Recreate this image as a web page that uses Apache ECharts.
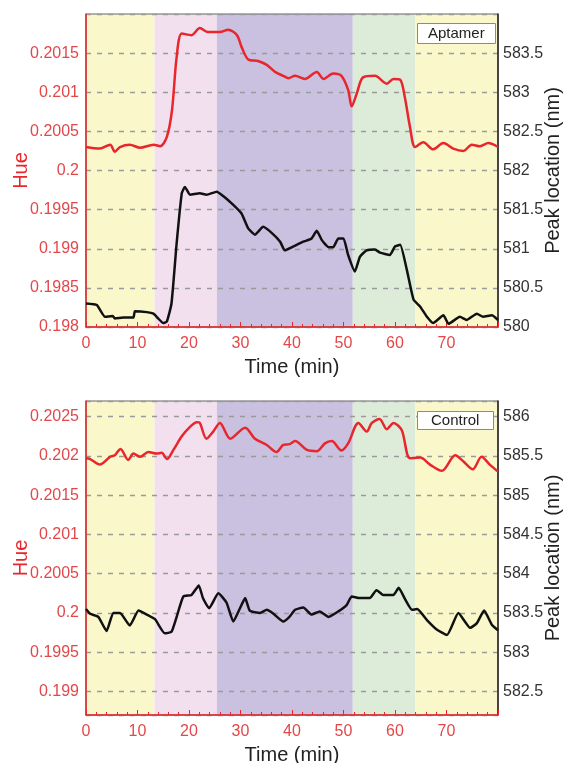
<!DOCTYPE html>
<html>
<head>
<meta charset="utf-8">
<script src="https://cdn.jsdelivr.net/npm/echarts@6/dist/echarts.min.js"></script>
<style>
  html, body { margin: 0; padding: 0; background: #fff; }
  #chart { width: 565px; height: 763px; }
</style>
</head>
<body>
<div id="chart"></div>
<script>
// 两个面板：Aptamer（上）和 Control（下）
const bands = [0, 13.3, 25.4, 51.8, 63.9, 80];
const bandColors = ['#faf8cb', '#f3e0ef', '#c9c1df', '#dcecd9', '#faf8cb'];

// 上图 红线 Hue
const topHueTime = [0, 2.7, 4.7, 5.6, 6.6, 8.5, 10.5, 13.1, 14.4, 15.7, 16.7, 17.6, 18.6, 20.5, 22.1, 23.7, 26, 27.6, 29.3, 30.2,
  31.5, 33.4, 35.1, 36.7, 38.3, 39.3, 40.6, 42.5, 44.8, 46.1, 48, 49.6, 50.9, 51.6, 52.6, 53.8, 56.1, 58.4, 59.7, 61,
  61.9, 62.9, 63.9, 65.5, 67.4, 69.4, 71.3, 73.3, 74.9, 76.5, 78.1, 80];
const topHue = [0.20030, 0.20028, 0.20033, 0.20024, 0.20030, 0.20033, 0.20029, 0.20033, 0.20031, 0.20043,
  0.20077, 0.20145, 0.20175, 0.20173, 0.20182, 0.20177, 0.20177, 0.20180, 0.20173, 0.20158,
  0.20142, 0.20140, 0.20135, 0.20126, 0.20121, 0.20118, 0.20121, 0.20117, 0.20126, 0.20117,
  0.20124, 0.20121, 0.20103, 0.20082, 0.20099, 0.20119, 0.20121, 0.20111, 0.20117, 0.20116,
  0.20094, 0.20056, 0.20030, 0.20036, 0.20027, 0.20035, 0.20028, 0.20025, 0.20033, 0.20031,
  0.20035, 0.20030];

// 上图 黑线 Peak location
const topPeakTime = [0, 2.1, 3.7, 5.2, 5.6, 7.3, 9.2, 9.5, 11.8, 13.1, 14, 15, 15.7, 16.6, 17.6, 18.6, 19.2, 20.2, 22.1, 23.4,
  25.4, 26.7, 28.6, 30.2, 31.5, 32.8, 34.4, 36.1, 37.7, 38.6, 40.3, 42.2, 43.8, 44.8, 45.8, 47.1, 48, 49, 50, 50.9,
  52.2, 53.2, 54.5, 56.1, 57.1, 59, 60, 61, 62.3, 63.6, 64.9, 66.2, 67.4, 69.4, 70.4, 72.6, 73.9, 75.9, 77.1, 78.8, 80];
const topPeak = [580.30, 580.28, 580.13, 580.14, 580.11, 580.12, 580.12, 580.20, 580.19, 580.17,
  580.11, 580.05, 580.07, 580.30, 581.07, 581.71, 581.79, 581.69, 581.71, 581.69,
  581.73, 581.67, 581.56, 581.45, 581.26, 581.18, 581.28, 581.20, 581.09, 580.98,
  581.03, 581.09, 581.13, 581.23, 581.11, 581.02, 581.02, 581.13, 581.13, 580.92,
  580.71, 580.90, 580.98, 580.99, 580.95, 580.92, 581.03, 581.05, 580.73, 580.35,
  580.26, 580.13, 580.05, 580.15, 580.04, 580.13, 580.09, 580.17, 580.13, 580.15, 580.09];

// 下图 红线 Hue
const botHueTime = [0, 0.8, 2.7, 4.7, 5.6, 6.7, 8.2, 9.2, 10.5, 12.1, 13.7, 14.7, 15.7, 17, 18.6, 20.2, 21.5, 22.1, 23.4, 24.7,
  26, 28, 30.9, 32.8, 35.1, 37, 38.3, 39.5, 40.6, 42.8, 44.8, 46.4, 47.7, 49.6, 50.9, 52.9, 54.5, 55.5, 57, 58.4,
  59.7, 61.3, 62.9, 64.9, 66.8, 69.1, 71.7, 73.3, 75.1, 76.8, 78.4, 80];
const botHue = [0.20197, 0.20196, 0.20189, 0.20199, 0.20201, 0.20209, 0.20195, 0.20203, 0.20199, 0.20205,
  0.20203, 0.20204, 0.20196, 0.20208, 0.20225, 0.20237, 0.20243, 0.20242, 0.20222, 0.20231,
  0.20242, 0.20222, 0.20236, 0.20222, 0.20214, 0.20205, 0.20214, 0.20215, 0.20219, 0.20208,
  0.20206, 0.20216, 0.20219, 0.20207, 0.20216, 0.20242, 0.20231, 0.20242, 0.20247, 0.20234,
  0.20242, 0.20233, 0.20197, 0.20198, 0.20189, 0.20181, 0.20201, 0.20193, 0.20183, 0.20199,
  0.20189, 0.20180];

// 下图 黑线 Peak location
const botPeakTime = [0, 0.8, 2.4, 4, 5.3, 6.6, 8.5, 10.2, 11.8, 13.4, 15.3, 16.6, 17.6, 18.9, 20.5, 21.9, 22.7, 23.9, 25.7, 27.3,
  28.6, 29.9, 30.9, 31.8, 33.8, 35.1, 36.4, 38.3, 39.5, 40.6, 42.2, 43.8, 45.4, 47.1, 49, 50.6, 51.6, 53.2, 55.1, 56.4,
  57.7, 59.7, 60.7, 62, 63.3, 64.3, 66.2, 68.1, 70.1, 72.3, 74.6, 75.9, 77.3, 78.8, 80];
const botPeak = [583.55, 583.49, 583.45, 583.27, 583.50, 583.50, 583.34, 583.53, 583.48, 583.42,
  583.24, 583.26, 583.45, 583.71, 583.73, 583.85, 583.69, 583.56, 583.75, 583.63,
  583.39, 583.56, 583.69, 583.53, 583.50, 583.54, 583.49, 583.39, 583.45, 583.54,
  583.57, 583.48, 583.52, 583.45, 583.52, 583.60, 583.71, 583.69, 583.69, 583.79,
  583.73, 583.73, 583.82, 583.67, 583.54, 583.55, 583.41, 583.29, 583.22, 583.50,
  583.31, 583.37, 583.53, 583.35, 583.28];

const RED = '#e8262b';
const LABEL_RED = '#e2484a';
const FONT = 'Liberation Sans, Arial, sans-serif';

const zip = (xs, ys) => xs.map((x, i) => [x, ys[i]]);

// 是否为刻度的整数倍（隐藏两端多余标签）
const onStep = (v, step) => Math.abs(v / step - Math.round(v / step)) < 1e-6;

const chart = echarts.init(document.getElementById('chart'));

const grids = [
  { left: 86, top: 14, width: 412, height: 313 },
  { left: 86, top: 401, width: 412, height: 314 }
];

function xAxisFor(i) {
  return {
    gridIndex: i,
    type: 'value',
    min: 0,
    max: 80,
    interval: 10,
    name: 'Time (min)',
    nameLocation: 'middle',
    nameGap: 30,
    nameMoveOverlap: false,
    nameTextStyle: { color: '#222', fontSize: 20, fontFamily: FONT },
    axisLine: { lineStyle: { color: RED, width: 1.5 } },
    axisTick: { inside: true, length: 5, lineStyle: { color: RED } },
    minorTick: { show: true, splitNumber: 5, length: 3, lineStyle: { color: RED } },
    axisLabel: {
      color: LABEL_RED, fontSize: 16, fontFamily: FONT, margin: 9,
      showMaxLabel: false
    },
    splitLine: { show: false }
  };
}

function hueAxis(i, min, max) {
  return {
    gridIndex: i,
    type: 'value',
    position: 'left',
    min: min,
    max: max,
    splitNumber: 8,
    name: 'Hue',
    nameLocation: 'middle',
    nameGap: 55,
    nameMoveOverlap: false,
    nameTextStyle: { color: RED, fontSize: 20, fontFamily: FONT },
    axisLine: { show: true, lineStyle: { color: RED, width: 1.5 } },
    axisTick: { show: false },
    axisLabel: {
      color: LABEL_RED, fontSize: 16, fontFamily: FONT, margin: 7,
      showMaxLabel: false,
      formatter: (v) => (onStep(v, 0.0005) ? String(+v.toFixed(4)) : '')
    },
    splitLine: { show: true, lineStyle: { color: '#9a9a9a', type: [5, 6], width: 1.3 } }
  };
}

function peakAxis(i, min, max) {
  return {
    gridIndex: i,
    type: 'value',
    position: 'right',
    min: min,
    max: max,
    splitNumber: 8,
    name: 'Peak location (nm)',
    nameLocation: 'middle',
    nameGap: 45,
    nameMoveOverlap: false,
    nameTextStyle: { color: '#222', fontSize: 20, fontFamily: FONT },
    axisLine: { show: true, lineStyle: { color: '#222', width: 1.5 } },
    axisTick: { show: false },
    axisLabel: {
      color: '#333', fontSize: 16, fontFamily: FONT, margin: 5,
      showMaxLabel: false,
      formatter: (v) => (onStep(v, 0.5) ? String(+v.toFixed(2)) : '')
    },
    splitLine: { show: false }
  };
}

// 背景色带
function bandSeries(i) {
  return {
    type: 'line',
    xAxisIndex: i,
    yAxisIndex: i * 2,
    data: [],
    z: -1,
    silent: true,
    markArea: {
      silent: true,
      z: -1,
      data: bandColors.map((c, k) => [
        { xAxis: bands[k], itemStyle: { color: c } },
        { xAxis: bands[k + 1] }
      ])
    }
  };
}

function lineSeries(i, yIdx, data, color, smooth) {
  return {
    type: 'line',
    xAxisIndex: i,
    yAxisIndex: yIdx,
    data: data,
    showSymbol: false,
    smooth: smooth,
    lineStyle: { color: color, width: 2.5 },
    itemStyle: { color: color },
    z: 3
  };
}

const boxStyle = {
  borderColor: '#8a8a8a',
  borderWidth: 1,
  backgroundColor: '#fff',
  textStyle: { color: '#222', fontSize: 15, fontWeight: 'normal', fontFamily: FONT }
};

chart.setOption({
  animation: false,
  title: [
    Object.assign({ text: 'Aptamer', left: 417, top: 23, padding: [3, 11] }, boxStyle),
    Object.assign({ text: 'Control', left: 417, top: 411, padding: [2, 14] }, boxStyle)
  ],
  grid: grids.map((g) => Object.assign({
    show: true, borderColor: '#666', borderWidth: 1, outerBoundsMode: 'none'
  }, g)),
  xAxis: [xAxisFor(0), xAxisFor(1)],
  yAxis: [
    hueAxis(0, 0.198, 0.202),
    peakAxis(0, 580, 584),
    hueAxis(1, 0.1987, 0.2027),
    peakAxis(1, 582.2, 586.2)
  ],
  series: [
    bandSeries(0),
    lineSeries(0, 0, zip(topHueTime, topHue), RED, 0.3),
    lineSeries(0, 1, zip(topPeakTime, topPeak), '#111', 0.15),
    bandSeries(1),
    lineSeries(1, 2, zip(botHueTime, botHue), RED, 0.3),
    lineSeries(1, 3, zip(botPeakTime, botPeak), '#111', 0.15)
  ]
});
</script>
</body>
</html>
